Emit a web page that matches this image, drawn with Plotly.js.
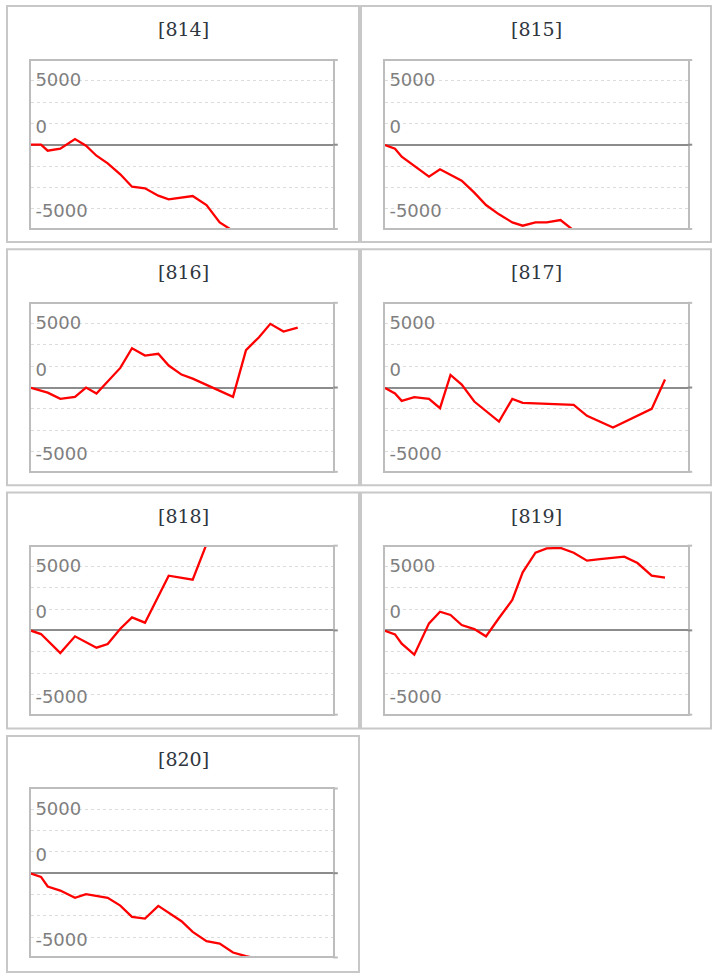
<!DOCTYPE html>
<html><head><meta charset="utf-8">
<script src="https://cdn.plot.ly/plotly-3.0.1.min.js"></script>
<style>html,body{margin:0;padding:0;background:#fff;overflow:hidden}</style>
</head><body><div id="chart" style="width:716px;height:978px"></div>
<script>
// ---- data ----
const panelNames = ['[814]', '[815]', '[816]', '[817]', '[818]', '[819]', '[820]'];
const steps = [0, 1.0, 1.67, 2.93, 4.4, 5.5, 6.55, 7.67, 8.93, 10.1, 11.4, 12.73,
               13.77, 15.05, 16.17, 17.55, 18.87, 20.2, 21.5, 22.8, 23.93, 25.25, 26.67, 28.0];
const s814 = [0, 0, -700, -470, 670, -120, -1290, -2180, -3470, -4920, -5110, -5970,
              -6400, null, -6010, -7070, -9100, -10100, null, null, null, null, null, null];
const s815 = [-35, -470, -1400, null, -3750, -2880, null, -4220, -5620, -7070, -8160, -9100,
              -9490, -9100, -9100, -8830, -10050, null, null, null, null, null, null, null];
const s816 = [-40, null, -600, -1330, -1090, 0, -700, null, 2300, 4610, 3750, 3950,
              2580, 1520, 1050, null, null, -1090, 4380, 5900, 7460, 6560, 7030, null];
const s817 = [-40, -700, -1560, -1130, -1330, -2420, 1480, 350, -1640, null, -3990, -1330,
              -1800, null, null, null, -2030, -3320, null, -4690, null, null, -2500, 940];
const s818 = [-40, -430, null, -2660, -700, null, -2030, -1600, 200, 1520, 900, null,
              6410, null, 5940, 10100, null, null, null, null, null, null, null, null];
const s819 = [-40, -470, -1560, -2850, 820, 2190, 1800, 625, 156, -700, 1450, 3560,
              6800, 9100, 9600, 9660, 9100, 8170, 8360, null, 8630, 7890, 6410, 6170];
const s820 = [-40, -430, -1560, -2030, -2890, -2460, null, -2890, -3790, -5120, -5310, -3830,
              null, -5630, -6880, -7970, -8240, -9300, -9730, -10050, null, null, null, null];
const tickValues = [7600, 2150, -7750];
const tickLabels = ['5000', '0', '-5000'];

const series = [s814, s815, s816, s817, s818, s819, s820];

// ---- layout geometry (pixels) ----
const W = 716, H = 978;
const yRange = [-9760, 9810];
const plotLeft = [31, 385], plotRight = [333.3, 687.7];
const panelLeft = [7, 361], panelRight = [359, 711];
const px = v => v / W, py = v => 1 - v / H;

const traces = [], shapes = [], annotations = [];
const layout = {
  width: W, height: H, margin: {l: 0, r: 0, t: 0, b: 0},
  paper_bgcolor: '#fff', plot_bgcolor: '#fff', showlegend: false,
  hovermode: false, font: {family: 'DejaVu Sans', color: '#808080'}
};

series.forEach((vals, i) => {
  const r = Math.floor(i / 2), c = i % 2;
  const n = i + 1, sfx = n > 1 ? String(n) : '';
  const top = 61 + 242.83 * r, bottom = 228 + 242.83 * r;
  const pTop = 6 + 243.3 * r, pBottom = pTop + 236;
  const plotW = plotRight[c] - plotLeft[c];
  const plotH = bottom - top;

  traces.push({
    x: steps, y: vals, type: 'scatter', mode: 'lines', connectgaps: true,
    line: {color: '#ff0000', width: 2.3}, xaxis: 'x' + sfx, yaxis: 'y' + sfx, hoverinfo: 'skip'
  });

  layout['xaxis' + sfx] = {
    domain: [px(plotLeft[c]), px(plotRight[c])], range: [0, plotW / 10],
    anchor: 'y' + sfx, showgrid: false, zeroline: false, showticklabels: false, ticks: '',
    showline: true, mirror: true, linecolor: '#bdbdbd', linewidth: 2, fixedrange: true
  };
  layout['yaxis' + sfx] = {
    domain: [py(bottom), py(top)], range: yRange, anchor: 'x' + sfx,
    tickmode: 'array', tickvals: tickValues, ticktext: tickLabels,
    ticklabelposition: 'inside', ticklabelstandoff: 5, ticks: '',
    tickfont: {family: 'DejaVu Sans', size: 18, color: '#7f7f7f'},
    showgrid: false,
    minor: {tickmode: 'linear', tick0: 0, dtick: 2500, showgrid: true,
            gridcolor: '#dcdcdc', gridwidth: 1, griddash: '3px,3px', ticks: ''},
    zeroline: true, zerolinecolor: '#8c8c8c', zerolinewidth: 2,
    showline: true, mirror: true, linecolor: '#bdbdbd', linewidth: 2, fixedrange: true
  };

  // outer panel frame
  shapes.push({type: 'rect', xref: 'paper', yref: 'paper',
    x0: px(panelLeft[c]), x1: px(panelRight[c]), y0: py(pBottom), y1: py(pTop),
    line: {color: '#c8c8c8', width: 2}, fillcolor: 'rgba(0,0,0,0)', layer: 'below'});

  // short extensions of horizontal lines past the right frame
  const ext = 1 + 4.5 / plotW;
  const zeroFrac = (0 - yRange[0]) / (yRange[1] - yRange[0]);
  [[1 + 1 / plotH, '#bdbdbd'], [-1 / plotH, '#bdbdbd'], [zeroFrac, '#8c8c8c']].forEach(([yy, col]) => {
    shapes.push({type: 'line', xref: 'x' + sfx + ' domain', yref: 'y' + sfx + ' domain',
      x0: 1, x1: ext, y0: yy, y1: yy, line: {color: col, width: 2}});
  });

  annotations.push({
    text: panelNames[i], xref: 'paper', yref: 'paper',
    x: px((panelLeft[c] + panelRight[c]) / 2), y: py(pTop + 23),
    xanchor: 'center', yanchor: 'middle', showarrow: false,
    font: {family: 'DejaVu Serif', size: 19, color: '#2f3640'}
  });
});

layout.shapes = shapes;
layout.annotations = annotations;
Plotly.newPlot('chart', traces, layout, {staticPlot: true, displayModeBar: false});
</script></body></html>
